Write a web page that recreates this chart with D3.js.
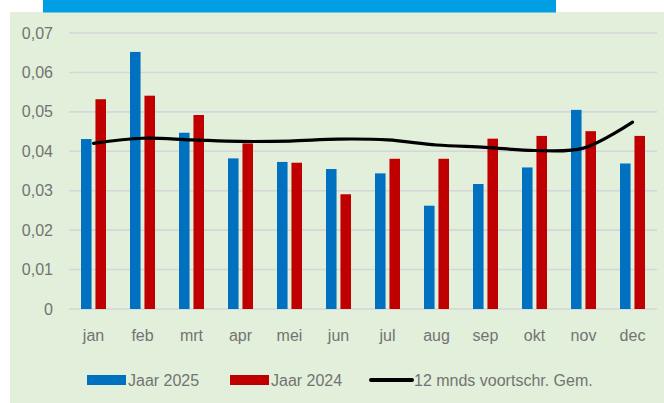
<!DOCTYPE html>
<html>
<head>
<meta charset="utf-8">
<script src="https://cdn.jsdelivr.net/npm/d3@7"></script>
<style>
  html, body { margin: 0; padding: 0; background: #fff; }
  svg { display: block; }
  text { font-family: "Liberation Sans Narrow", "Arial Narrow", "Liberation Sans", sans-serif; fill: #737373; }
</style>
</head>
<body>
<svg id="chart" width="664" height="403"></svg>
<script>
// Data
const months = ['jan', 'feb', 'mrt', 'apr', 'mei', 'jun', 'jul', 'aug', 'sep', 'okt', 'nov', 'dec'];
const jaar2025 = [0.0431, 0.0652, 0.0447, 0.0382, 0.0373, 0.0355, 0.0344, 0.0262, 0.0317, 0.0359, 0.0505, 0.0369];
const jaar2024 = [0.0532, 0.0541, 0.0492, 0.0420, 0.0371, 0.0291, 0.0381, 0.0381, 0.0432, 0.0439, 0.0451, 0.0439];
const gem12 = [0.0420, 0.0433, 0.0429, 0.0425, 0.0426, 0.0431, 0.0429, 0.0416, 0.0410, 0.0402, 0.0408, 0.0474];
const yTicks = [0, 0.01, 0.02, 0.03, 0.04, 0.05, 0.06, 0.07];
const seriesNames = ['Jaar 2025', 'Jaar 2024', '12 mnds voortschr. Gem.'];

const colors = { blue: '#0070c0', red: '#c00000', line: '#000000' };

const svg = d3.select('#chart');

// Background panel + banner strip on top
svg.append('rect')
  .attr('x', 10).attr('y', 12)
  .attr('width', 654).attr('height', 391)
  .attr('fill', '#e2efda');

svg.append('rect')
  .attr('x', 43).attr('y', 0)
  .attr('width', 513).attr('height', 12.5)
  .attr('fill', '#009fe3');

// Scales
const x = d3.scaleBand()
  .domain(months)
  .range([69, 657]);

const x1 = d3.scaleBand()
  .domain(['2025', '2024'])
  .range([12, 37])
  .paddingInner(0.27);

const y = d3.scaleLinear()
  .domain([0, 0.07])
  .range([309, 33]);

// Gridlines
svg.append('g')
  .selectAll('line')
  .data(yTicks)
  .join('line')
  .attr('x1', 69)
  .attr('x2', 657)
  .attr('y1', d => y(d))
  .attr('y2', d => y(d))
  .attr('stroke', '#d5d5da')
  .attr('stroke-width', 1.6);

// Y axis labels
const fmt = d => d === 0 ? '0' : d3.format('.2f')(d).replace('.', ',');
const yAxis = d3.axisLeft(y).tickValues(yTicks).tickFormat(fmt).tickSize(0).tickPadding(0);
svg.append('g')
  .attr('transform', 'translate(53,0)')
  .call(yAxis)
  .call(g => g.select('.domain').remove())
  .call(g => g.selectAll('text')
    .attr('fill', '#767676')
    .style('font-size', '16px')
    .style('font-family', '"Liberation Sans Narrow", "Arial Narrow", sans-serif'));

// X axis labels
const xAxis = d3.axisBottom(x).tickSize(0).tickPadding(0);
svg.append('g')
  .attr('transform', 'translate(0,330)')
  .call(xAxis)
  .call(g => g.select('.domain').remove())
  .call(g => g.selectAll('text')
    .attr('fill', '#767676')
    .style('font-size', '16px')
    .style('font-family', '"Liberation Sans Narrow", "Arial Narrow", sans-serif'));

// Bars
const barGroups = svg.append('g')
  .selectAll('g')
  .data(months)
  .join('g')
  .attr('transform', d => `translate(${x(d)},0)`);

barGroups.append('rect')
  .attr('x', x1('2025'))
  .attr('width', x1.bandwidth())
  .attr('y', (d, i) => y(jaar2025[i]))
  .attr('height', (d, i) => y(0) - y(jaar2025[i]))
  .attr('fill', colors.blue);

barGroups.append('rect')
  .attr('x', x1('2024'))
  .attr('width', x1.bandwidth())
  .attr('y', (d, i) => y(jaar2024[i]))
  .attr('height', (d, i) => y(0) - y(jaar2024[i]))
  .attr('fill', colors.red);

// Smoothed 12-month line
const line = d3.line()
  .x((d, i) => x(months[i]) + x.bandwidth() / 2)
  .y(d => y(d))
  .curve(d3.curveCatmullRom.alpha(0.5));

svg.append('path')
  .datum(gem12)
  .attr('d', line)
  .attr('fill', 'none')
  .attr('stroke', colors.line)
  .attr('stroke-width', 3.2)
  .attr('stroke-linecap', 'round');

// Legend
const legend = svg.append('g').attr('transform', 'translate(0,380)');
const legendItems = [
  { name: seriesNames[0], x: 87, type: 'rect', color: colors.blue },
  { name: seriesNames[1], x: 230, type: 'rect', color: colors.red },
  { name: seriesNames[2], x: 370, type: 'line', color: colors.line }
];

legendItems.forEach(item => {
  const lg = legend.append('g').attr('transform', `translate(${item.x},0)`);
  if (item.type === 'rect') {
    lg.append('rect')
      .attr('x', 0).attr('y', -5)
      .attr('width', 39).attr('height', 10)
      .attr('fill', item.color);
  } else {
    lg.append('line')
      .attr('x1', 1).attr('x2', 42)
      .attr('y1', 0).attr('y2', 0)
      .attr('stroke', item.color)
      .attr('stroke-width', 4)
      .attr('stroke-linecap', 'round');
  }
  lg.append('text')
    .attr('x', item.type === 'rect' ? 41 : 44)
    .attr('y', 0)
    .attr('dy', '0.35em')
    .attr('fill', '#767676')
    .style('font-size', '16px')
    .text(item.name);
});
</script>
</body>
</html>
